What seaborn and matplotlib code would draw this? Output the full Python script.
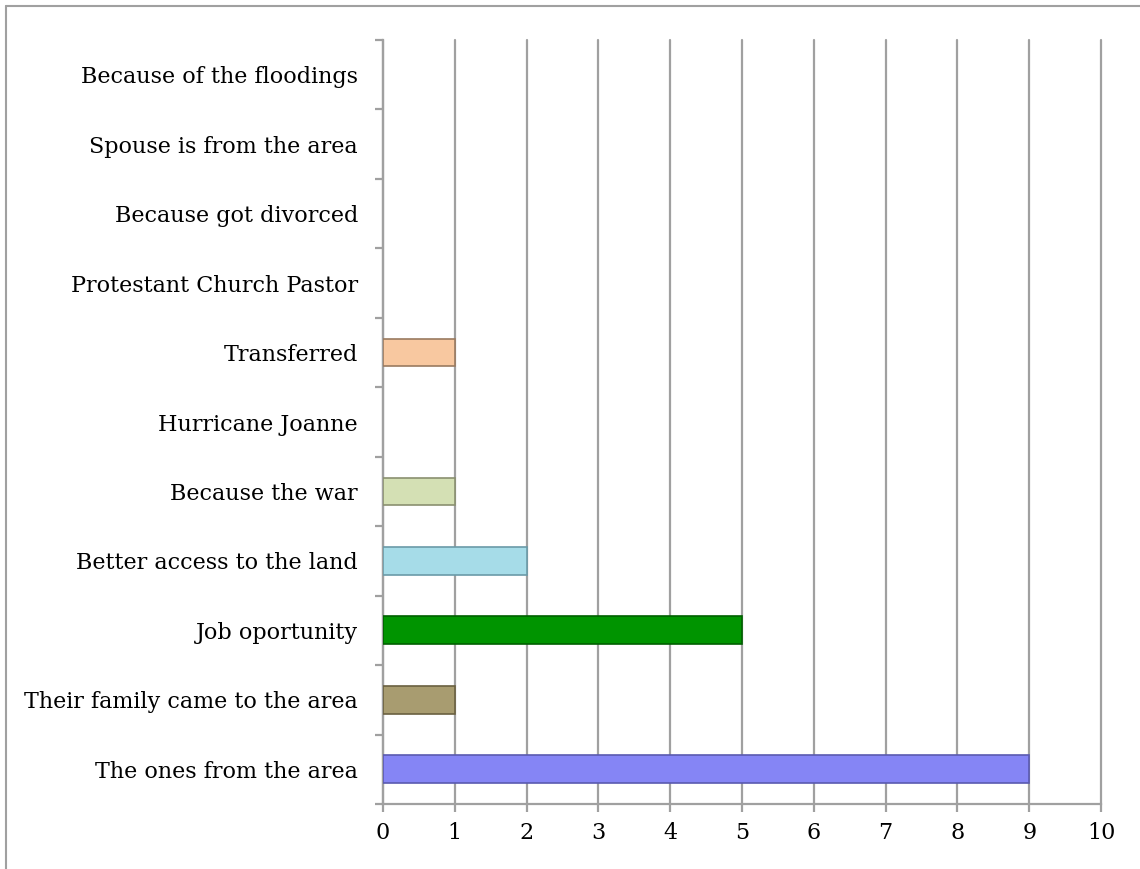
import matplotlib
matplotlib.use("Agg")
import matplotlib.pyplot as plt
import seaborn as sns
import pandas as pd
from matplotlib.lines import Line2D
from matplotlib.ticker import FixedLocator

categories = [
    "Because of the floodings",
    "Spouse is from the area",
    "Because got divorced",
    "Protestant Church Pastor",
    "Transferred",
    "Hurricane Joanne",
    "Because the war",
    "Better access to the land",
    "Job oportunity",
    "Their family came to the area",
    "The ones from the area",
]
values = [0, 0, 0, 0, 1, 0, 1, 2, 5, 1, 9]
colors = ["#9999FF", "#993366", "#FFFFCC", "#CCFFFF", "#F8C8A0", "#FF8080",
          "#D4E0B4", "#A6DCE8", "#009400", "#A89C70", "#8585F5"]
edges = ["#6060B0", "#662244", "#999977", "#88AAAA", "#9A7A60", "#AA5555",
         "#8A9070", "#6A9AA8", "#006000", "#6A6040", "#5A5AB0"]

df = pd.DataFrame({"cat": categories, "val": values})

sns.set_style("white")
plt.rcParams["font.family"] = ["DejaVu Serif"]
plt.rcParams["text.color"] = "black"
plt.rcParams["xtick.color"] = "black"
plt.rcParams["ytick.color"] = "black"

fig = plt.figure(figsize=(11.40, 8.69), dpi=100)
ax = fig.add_axes([383 / 1140, 1 - 804 / 869, (1101 - 383) / 1140, (804 - 40) / 869])

sns.barplot(data=df, y="cat", x="val", hue="cat", palette=colors, order=categories,
            hue_order=categories, legend=False, orient="h", width=0.40, ax=ax,
            linewidth=1.2, saturation=1)
for patch, ec, v in zip(ax.patches, edges, values):
    patch.set_edgecolor(ec)
    patch.set_zorder(3)
    if v == 0:
        patch.set_linewidth(0)

ax.set_xlim(0, 10)
ax.set_ylim(len(categories) - 0.5, -0.5)
ax.set_xticks(range(0, 11))
ax.set_xlabel("")
ax.set_ylabel("")

grid_c = "#A0A0A0"
ax.xaxis.grid(True, color=grid_c, linewidth=1.6, zorder=0)
for gl in ax.get_xgridlines():
    gl.set_clip_on(False)
ax.yaxis.grid(False)
ax.set_axisbelow(True)

for s in ["top", "right"]:
    ax.spines[s].set_visible(False)
for s in ["left", "bottom"]:
    ax.spines[s].set_color(grid_c)
    ax.spines[s].set_linewidth(1.6)

ax.yaxis.set_minor_locator(FixedLocator([i - 0.5 for i in range(len(categories) + 1)]))
ax.tick_params(axis="y", which="major", length=0, pad=18, labelsize=16, labelcolor="black")
ax.tick_params(axis="y", which="minor", length=5.5, width=1.6, color=grid_c, left=True)
ax.tick_params(axis="x", which="major", length=6, width=1.6, color=grid_c, pad=7,
               labelsize=16, bottom=True, labelcolor="black")

fig.add_artist(Line2D([6 / 1140, 6 / 1140], [0, 1 - 6 / 869], color=grid_c, linewidth=1.5))
fig.add_artist(Line2D([6 / 1140, 1], [1 - 6 / 869, 1 - 6 / 869], color=grid_c, linewidth=1.5))

fig.savefig("out.png", dpi=100, facecolor="white")
